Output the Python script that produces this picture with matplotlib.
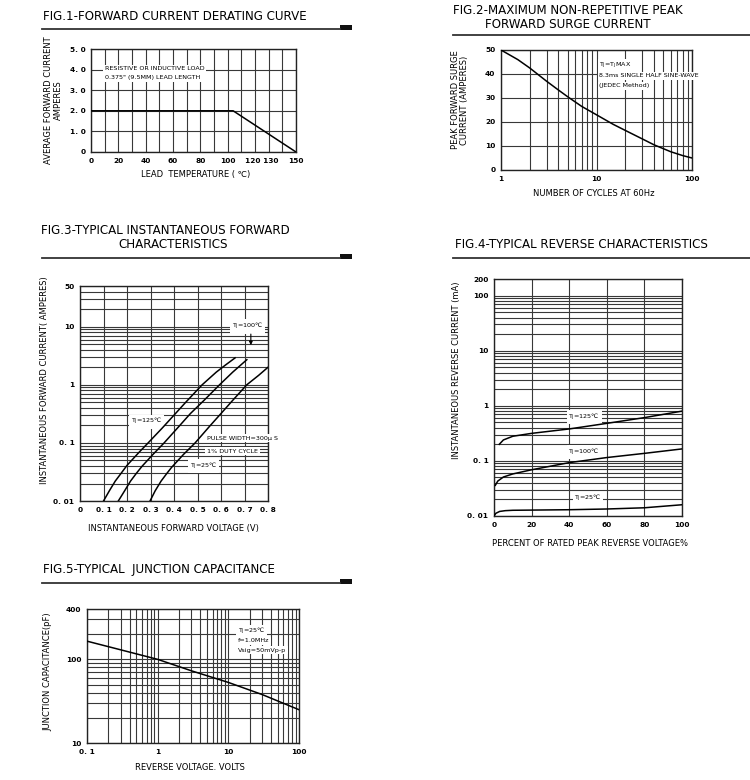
import matplotlib
matplotlib.use('Agg')
import matplotlib.pyplot as plt
import matplotlib.transforms as mtransforms
from matplotlib.lines import Line2D
from matplotlib.patches import Rectangle
from matplotlib.ticker import FixedLocator, NullFormatter, FixedFormatter

W, H = 750, 780
plt.rcParams['font.family'] = ['DejaVu Sans']

# ---------------- data ----------------
# Fig.1 derating curve
f1_temp = [0, 104, 150]
f1_current = [2.0, 2.0, 0.0]
f1_xticks = [0, 10, 20, 30, 40, 50, 60, 70, 80, 90, 100, 110, 120, 130, 140, 150]
f1_xlabels = ['0', '', '20', '', '40', '', '60', '', '80', '', '100', '', '', '', '', '150']
f1_pair_label = '120 130'
f1_yticks = [0, 1, 2, 3, 4, 5]
f1_ylabels = ['0', '1. 0', '2. 0', '3. 0', '4. 0', '5. 0']

# Fig.2 surge current
f2_cycles = [1, 1.5, 2, 3, 4, 5, 7, 10, 15, 20, 30, 40, 60, 80, 100]
f2_amps = [50, 46, 42.5, 37, 33.3, 30.5, 26.5, 23, 19, 16.5, 13, 10.5, 7.6, 6, 5]
f2_yticks = [0, 10, 20, 30, 40, 50]
f2_xticks = [1, 10, 100]
f2_xlabels = ['1', '10', '100']

# Fig.3 forward characteristics
f3_v_125 = [0.10, 0.125, 0.15, 0.175, 0.20, 0.25, 0.29, 0.35, 0.40, 0.45, 0.52, 0.58, 0.62, 0.66]
f3_i_125 = [0.01, 0.015, 0.022, 0.030, 0.041, 0.068, 0.1, 0.18, 0.30, 0.50, 1.0, 1.65, 2.2, 2.9]
f3_v_100 = [0.163, 0.19, 0.215, 0.24, 0.265, 0.31, 0.358, 0.42, 0.47, 0.53, 0.594, 0.65, 0.71]
f3_i_100 = [0.01, 0.015, 0.022, 0.030, 0.040, 0.063, 0.1, 0.19, 0.32, 0.55, 1.0, 1.65, 2.7]
f3_v_25 = [0.298, 0.32, 0.345, 0.37, 0.39, 0.44, 0.49, 0.55, 0.60, 0.65, 0.71, 0.76, 0.80]
f3_i_25 = [0.01, 0.015, 0.022, 0.030, 0.038, 0.063, 0.1, 0.19, 0.32, 0.54, 1.0, 1.45, 2.0]
f3_xticks = [0, 0.1, 0.2, 0.3, 0.4, 0.5, 0.6, 0.7, 0.8]
f3_xlabels = ['0', '0. 1', '0. 2', '0. 3', '0. 4', '0. 5', '0. 6', '0. 7', '0. 8']
f3_yticks = [0.01, 0.1, 1, 10, 50]
f3_ylabels = ['0. 01', '0. 1', '1', '10', '50']

# Fig.4 reverse characteristics
f4_pct_125 = [2.8, 5, 10, 20, 40, 60, 80, 100]
f4_i_125 = [0.20, 0.24, 0.28, 0.316, 0.38, 0.48, 0.61, 0.80]
f4_pct_100 = [0.7, 2, 5, 10, 20, 40, 60, 80, 100]
f4_i_100 = [0.036, 0.043, 0.051, 0.058, 0.069, 0.093, 0.115, 0.137, 0.165]
f4_pct_25 = [0, 1, 3, 6, 10, 20, 40, 60, 80, 100]
f4_i_25 = [0.0100, 0.0112, 0.0121, 0.0125, 0.0127, 0.0128, 0.0130, 0.0134, 0.0141, 0.0160]
f4_xticks = [0, 20, 40, 60, 80, 100]
f4_yticks = [0.01, 0.1, 1, 10, 100, 200]
f4_ylabels = ['0. 01', '0. 1', '1', '10', '100', '200']

# Fig.5 junction capacitance
f5_volts = [0.1, 0.3, 1, 3, 10, 30, 100]
f5_pf = [165, 130, 100, 73, 53, 38, 25]
f5_xticks = [0.1, 1, 10, 100]
f5_xlabels = ['0. 1', '1', '10', '100']
f5_yticks = [10, 100, 400]
f5_ylabels = ['10', '100', '400']

# ---------------- helpers ----------------
fig = plt.figure(figsize=(W / 100, H / 100), dpi=100)

GRID = '#383838'
TICKFS = 5.3
LABFS = 6.0
TITLEFS = 8.6


def px_axes(x0, y0, x1, y1):
    return fig.add_axes([x0 / W, 1 - y1 / H, (x1 - x0) / W, (y1 - y0) / H])


def ftext(x, y, s, **kw):
    fig.text(x / W, 1 - y / H, s, **kw)


def rule(x0, x1, y, box=True):
    fig.add_artist(Line2D([x0 / W, x1 / W], [1 - y / H] * 2, color='#333333', lw=1.3))
    if box:
        fig.add_artist(Rectangle((x1 / W, 1 - (y + 0.5) / H), 12 / W, 5 / H,
                                 color='#111111', lw=0))


def style(ax):
    for s in ax.spines.values():
        s.set_color('#222222')
        s.set_linewidth(1.0)
    ax.tick_params(which='both', length=0, labelsize=TICKFS, pad=4)
    for lab in ax.get_xticklabels() + ax.get_yticklabels():
        lab.set_fontweight('bold')
    ax.set_axisbelow(True)


def note(ax, x, y, s, ha='left', fs=4.6):
    ax.text(x, y, s, ha=ha, va='center', fontsize=fs, zorder=3,
            bbox=dict(facecolor='white', edgecolor='none', pad=1.2))


TJ = 'T$_\\mathregular{J}$'

# ---------------- Fig.1 ----------------
ftext(43, 16, 'FIG.1-FORWARD CURRENT DERATING CURVE', fontsize=TITLEFS, va='center', ha='left')
rule(42, 340, 29)
ax1 = px_axes(91, 49, 296, 152)
ax1.plot(f1_temp, f1_current, color='black', lw=1.1, zorder=4)
ax1.set_xlim(0, 150)
ax1.set_ylim(0, 5)
ax1.set_xticks(f1_xticks, f1_xlabels)
ax1.set_yticks(f1_yticks, f1_ylabels)
ax1.grid(True, which='major', color=GRID, lw=0.8)
style(ax1)
pair_tr = mtransforms.blended_transform_factory(ax1.transData, ax1.transAxes) + \
    mtransforms.ScaledTranslation(0, -4 / 72, fig.dpi_scale_trans)
ax1.text((f1_xticks[12] + f1_xticks[13]) / 2, 0, f1_pair_label, transform=pair_tr,
         ha='center', va='top', fontsize=TICKFS, fontweight='bold')
note(ax1, 10, 4.03, 'RESISTIVE OR INDUCTIVE LOAD')
note(ax1, 10, 3.62, '0.375" (9.5MM) LEAD LENGTH')
ftext(49, 100, 'AVERAGE FORWARD CURRENT', rotation=90, fontsize=LABFS, ha='center', va='center')
ftext(58, 100, 'AMPERES', rotation=90, fontsize=LABFS, ha='center', va='center')
ftext(196, 174, 'LEAD  TEMPERATURE ( \u2103)', fontsize=LABFS, ha='center', va='center')

# ---------------- Fig.2 ----------------
ftext(568, 10, 'FIG.2-MAXIMUM NON-REPETITIVE PEAK', fontsize=TITLEFS, ha='center', va='center')
ftext(568, 25, 'FORWARD SURGE CURRENT', fontsize=TITLEFS, ha='center', va='center')
rule(453, 750, 35, box=False)
ax2 = px_axes(501, 50, 692, 170)
ax2.plot(f2_cycles, f2_amps, color='black', lw=1.1, zorder=4)
ax2.set_xscale('log')
ax2.set_xlim(1, 100)
ax2.set_ylim(0, 50)
ax2.set_yticks(f2_yticks)
ax2.xaxis.set_major_locator(FixedLocator(f2_xticks))
ax2.xaxis.set_major_formatter(FixedFormatter(f2_xlabels))
ax2.xaxis.set_minor_locator(FixedLocator([2, 3, 4, 5, 6, 7, 8, 9, 20, 30, 40, 50, 60, 70, 80, 90]))
ax2.xaxis.set_minor_formatter(NullFormatter())
ax2.grid(True, which='major', axis='both', color=GRID, lw=0.8)
ax2.grid(True, which='minor', axis='x', color=GRID, lw=0.8)
style(ax2)
note(ax2, 10.7, 43.3, TJ + '=' + TJ + 'MAX')
note(ax2, 10.7, 39.2, '8.3ms SINGLE HALF SINE-WAVE')
note(ax2, 10.7, 35.0, '(JEDEC Method)')
ftext(456, 100, 'PEAK FORWARD SURGE', rotation=90, fontsize=LABFS, ha='center', va='center')
ftext(465, 100, 'CURRENT (AMPERES)', rotation=90, fontsize=LABFS, ha='center', va='center')
ftext(594, 193, 'NUMBER OF CYCLES AT 60Hz', fontsize=LABFS, ha='center', va='center')

# ---------------- Fig.3 ----------------
ftext(165, 230, 'FIG.3-TYPICAL INSTANTANEOUS FORWARD', fontsize=TITLEFS, ha='center', va='center')
ftext(173, 245, 'CHARACTERISTICS', fontsize=TITLEFS, ha='center', va='center')
rule(42, 340, 258)
ax3 = px_axes(80, 286, 268, 501)
for v, i in ((f3_v_125, f3_i_125), (f3_v_100, f3_i_100), (f3_v_25, f3_i_25)):
    ax3.plot(v, i, color='black', lw=1.1, zorder=4)
ax3.set_yscale('log')
ax3.set_xlim(0, 0.8)
ax3.set_ylim(0.01, 50)
ax3.set_xticks(f3_xticks, f3_xlabels)
ax3.yaxis.set_major_locator(FixedLocator(f3_yticks))
ax3.yaxis.set_major_formatter(FixedFormatter(f3_ylabels))
ax3.yaxis.set_minor_locator(FixedLocator([k * d for d in (0.01, 0.1, 1, 10) for k in range(2, 10)]))
ax3.yaxis.set_minor_formatter(NullFormatter())
ax3.grid(True, which='major', axis='both', color=GRID, lw=0.8)
ax3.grid(True, which='minor', axis='y', color=GRID, lw=0.8)
style(ax3)
note(ax3, 0.78, 10, TJ + '=100\u2103', ha='right')
ax3.annotate('', xy=(0.727, 4.3), xytext=(0.727, 8.3),
             arrowprops=dict(arrowstyle='-|>', color='black', lw=0.8, mutation_scale=5), zorder=6)
note(ax3, 0.285, 0.23, TJ + '=125\u2103', ha='center')
note(ax3, 0.54, 0.12, 'PULSE WIDTH=300\u03bc S')
note(ax3, 0.54, 0.072, '1% DUTY CYCLE')
note(ax3, 0.525, 0.04, TJ + '=25\u2103', ha='center')
ftext(45, 380, 'INSTANTANEOUS FORWARD CURRENT( AMPERES)', rotation=90, fontsize=LABFS, ha='center', va='center')
ftext(173, 529, 'INSTANTANEOUS FORWARD VOLTAGE (V)', fontsize=LABFS, ha='center', va='center')

# ---------------- Fig.4 ----------------
ftext(455, 244, 'FIG.4-TYPICAL REVERSE CHARACTERISTICS', fontsize=TITLEFS, ha='left', va='center')
rule(453, 750, 258, box=False)
ax4 = px_axes(494, 279, 682, 516)
for p, i in ((f4_pct_125, f4_i_125), (f4_pct_100, f4_i_100), (f4_pct_25, f4_i_25)):
    ax4.plot(p, i, color='black', lw=1.1, zorder=4)
ax4.set_yscale('log')
ax4.set_xlim(0, 100)
ax4.set_ylim(0.01, 200)
ax4.set_xticks(f4_xticks)
ax4.yaxis.set_major_locator(FixedLocator(f4_yticks))
ax4.yaxis.set_major_formatter(FixedFormatter(f4_ylabels))
ax4.yaxis.set_minor_locator(FixedLocator([k * d for d in (0.01, 0.1, 1, 10) for k in range(2, 10)]))
ax4.yaxis.set_minor_formatter(NullFormatter())
ax4.grid(True, which='major', axis='both', color=GRID, lw=0.8)
ax4.grid(True, which='minor', axis='y', color=GRID, lw=0.8)
style(ax4)
note(ax4, 48, 0.62, TJ + '=125\u2103', ha='center')
note(ax4, 48, 0.145, TJ + '=100\u2103', ha='center')
note(ax4, 50, 0.0205, TJ + '=25\u2103', ha='center')
ftext(457, 370, 'INSTANTANEOUS REVERSE CURRENT (mA)', rotation=90, fontsize=LABFS, ha='center', va='center')
ftext(590, 544, 'PERCENT OF RATED PEAK REVERSE VOLTAGE%', fontsize=LABFS, ha='center', va='center')

# ---------------- Fig.5 ----------------
ftext(43, 570, 'FIG.5-TYPICAL  JUNCTION CAPACITANCE', fontsize=TITLEFS, ha='left', va='center')
rule(42, 340, 583)
ax5 = px_axes(87, 609, 299, 743)
ax5.plot(f5_volts, f5_pf, color='black', lw=1.1, zorder=4)
ax5.set_xscale('log')
ax5.set_yscale('log')
ax5.set_xlim(0.1, 100)
ax5.set_ylim(10, 400)
ax5.xaxis.set_major_locator(FixedLocator(f5_xticks))
ax5.xaxis.set_major_formatter(FixedFormatter(f5_xlabels))
ax5.xaxis.set_minor_locator(FixedLocator([k * d for d in (0.1, 1, 10) for k in range(2, 10)]))
ax5.xaxis.set_minor_formatter(NullFormatter())
ax5.yaxis.set_major_locator(FixedLocator(f5_yticks))
ax5.yaxis.set_major_formatter(FixedFormatter(f5_ylabels))
ax5.yaxis.set_minor_locator(FixedLocator([20, 30, 40, 50, 60, 70, 80, 90, 200, 300]))
ax5.yaxis.set_minor_formatter(NullFormatter())
ax5.grid(True, which='both', axis='both', color=GRID, lw=0.8)
style(ax5)
note(ax5, 13.7, 213, TJ + '=25\u2103')
note(ax5, 13.7, 166, 'f=1.0MHz')
note(ax5, 13.7, 129, 'Vsig=50mVp-p')
ftext(48, 672, 'JUNCTION CAPACITANCE(pF)', rotation=90, fontsize=LABFS, ha='center', va='center')
ftext(190, 768, 'REVERSE VOLTAGE. VOLTS', fontsize=LABFS, ha='center', va='center')

fig.savefig('out.png', dpi=100, facecolor='white')
